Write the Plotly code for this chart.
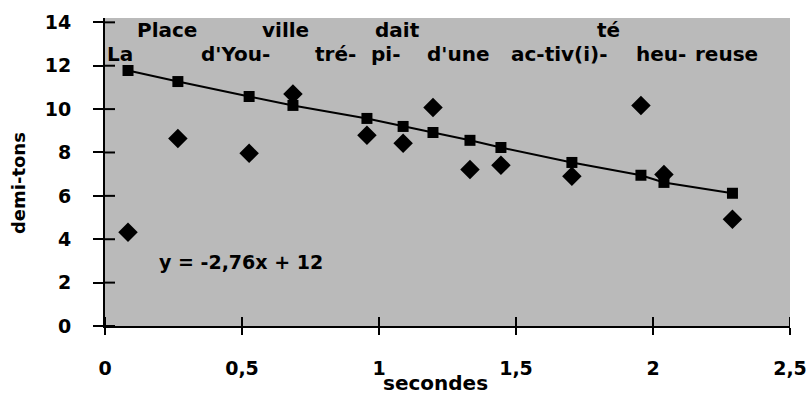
import plotly.graph_objects as go

# Measured points (seconds, semitones)
secondes = [0.084, 0.266, 0.526, 0.686, 0.956, 1.088, 1.197, 1.332, 1.445, 1.704, 1.956, 2.040, 2.290]
demi_tons = [4.32, 8.65, 7.96, 10.70, 8.79, 8.42, 10.07, 7.22, 7.41, 6.90, 10.17, 6.99, 4.92]
# Trend-line points
tendance = [11.78, 11.27, 10.58, 10.17, 9.57, 9.20, 8.92, 8.56, 8.23, 7.54, 6.95, 6.62, 6.12]

# Syllable labels
syll_top = ["Place", "ville", "dait", "té"]
syll_top_x = [0.226, 0.66, 1.066, 1.836]
syll_bot = ["La", "d'You-", "tré-", "pi-", "d'une", "ac-tiv(i)-", "heu-", "reuse"]
syll_bot_x = [0.055, 0.475, 0.84, 1.025, 1.29, 1.66, 2.03, 2.27]

equation = "y = -2,76x + 12"
x_ticks = [0, 0.5, 1, 1.5, 2, 2.5]
y_ticks = [0, 2, 4, 6, 8, 10, 12, 14]

FONT = dict(family="DejaVu Sans", color="black", weight="bold")

fig = go.Figure()
fig.add_trace(go.Scatter(
    x=secondes, y=demi_tons, mode="markers",
    marker=dict(symbol="diamond", size=15, color="black"),
    showlegend=False,
))
fig.add_trace(go.Scatter(
    x=secondes, y=tendance, mode="lines+markers",
    line=dict(color="black", width=2),
    marker=dict(symbol="square", size=11, color="black",
                line=dict(color="black", width=0)),
    showlegend=False,
))

ann = []
for t, x in zip(syll_top, syll_top_x):
    ann.append(dict(x=x, y=13.63, xref="x", yref="y", text=t, showarrow=False,
                    borderpad=0, font=dict(size=20, **FONT)))
for t, x in zip(syll_bot, syll_bot_x):
    ann.append(dict(x=x, y=12.56, xref="x", yref="y", text=t, showarrow=False,
                    borderpad=0, font=dict(size=20, **FONT)))
ann.append(dict(x=0.497, y=2.94, xref="x", yref="y", text=equation, showarrow=False,
                font=dict(size=19, **FONT)))
ann.append(dict(x=0.483, y=-0.186, xref="paper", yref="paper", text="secondes",
                showarrow=False, xanchor="center", yanchor="middle", borderpad=0,
                font=dict(size=20, **FONT)))
ann.append(dict(x=-0.127, y=0.464, xref="paper", yref="paper", text="demi-tons",
                showarrow=False, textangle=-90, xanchor="center", yanchor="middle",
                font=dict(size=18, **FONT)))

# inner half of the crossing tick marks, placed at the tick values
shapes = []
for v in y_ticks:
    shapes.append(dict(type="line", xref="x domain", yref="y", x0=0, x1=0.0146,
                       y0=v, y1=v, line=dict(color="black", width=2), layer="above"))
for v in x_ticks:
    shapes.append(dict(type="line", xref="x", yref="y domain", x0=v, x1=v,
                       y0=0, y1=0.029, line=dict(color="black", width=2), layer="above"))

fig.update_layout(
    width=806, height=394,
    margin=dict(l=105, r=16, t=18, b=68, autoexpand=False),
    paper_bgcolor="white",
    plot_bgcolor="#bababa",
    separators=", ",
    annotations=ann,
    shapes=shapes,
    xaxis=dict(range=[0, 2.5], tickvals=x_ticks, showgrid=False, zeroline=False,
               showline=True, linecolor="black", linewidth=2, automargin=False,
               ticks="outside", ticklen=7, tickwidth=2, tickcolor="black",
               ticklabelstandoff=17, ticklabeloverflow="allow",
               tickfont=dict(size=19, **FONT)),
    yaxis=dict(range=[0, 14.2], tickvals=y_ticks, showgrid=False, zeroline=False,
               showline=True, linecolor="black", linewidth=2, automargin=False,
               ticks="outside", ticklen=10, tickwidth=2, tickcolor="black",
               ticklabelstandoff=18,
               tickfont=dict(size=19, **FONT)),
)

fig.write_html("out.html")
